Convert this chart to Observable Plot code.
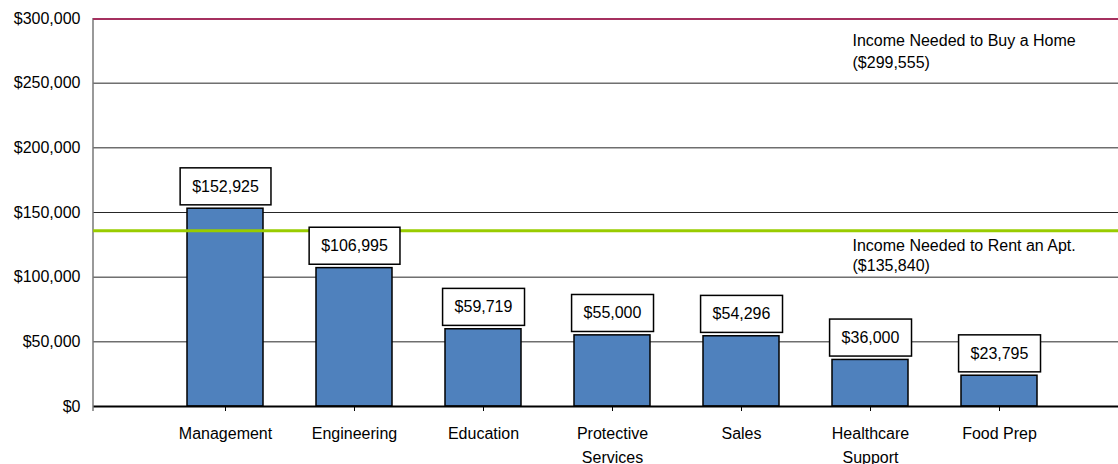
<!DOCTYPE html>
<html>
<head>
<meta charset="utf-8">
<script src="https://cdn.jsdelivr.net/npm/d3@7"></script>
<script src="https://cdn.jsdelivr.net/npm/@observablehq/plot@0.6"></script>
<style>
  html, body { margin: 0; padding: 0; background: #fff; }
</style>
</head>
<body>
<div id="chart"></div>
<script>
const categories = ["Management", "Engineering", "Education", "Protective Services", "Sales", "Healthcare Support", "Food Prep"];
const tickLabels = ["Management", "Engineering", "Education", "Protective\nServices", "Sales", "Healthcare\nSupport", "Food Prep"];
const values = [152925, 106995, 59719, 55000, 54296, 36000, 23795];
const yTicks = [0, 50000, 100000, 150000, 200000, 250000, 300000];
const refNames = ["Income Needed to Buy a Home", "Income Needed to Rent an Apt."];
const refValues = [299555, 135840];

const fmt = d => "$" + d3.format(",")(d);
const data = categories.map((c, i) => ({category: c, value: values[i]}));
const refs = refNames.map((n, i) => ({name: n, value: refValues[i], text: n + "\n(" + fmt(refValues[i]) + ")"}));

const yAxisLine = (index, scales, values, dims) =>
  d3.create("svg:line")
    .attr("x1", dims.marginLeft).attr("x2", dims.marginLeft)
    .attr("y1", dims.marginTop).attr("y2", dims.height - dims.marginBottom + 5)
    .attr("stroke", "#777").attr("stroke-width", 1.5).node();

const chart = Plot.plot({
  width: 1118,
  height: 464,
  marginLeft: 93,
  marginRight: 0,
  marginTop: 18,
  marginBottom: 58,
  style: {fontFamily: "'Liberation Sans', Arial, sans-serif", fontSize: "16px", color: "#000", background: "#fff"},
  x: {domain: categories, range: [157.6, 1066.6], paddingInner: 0.407, paddingOuter: 0.2035, label: null},
  y: {domain: [0, 300000], label: null},
  marks: [
    Plot.ruleY(yTicks, {stroke: "#000", strokeWidth: 1, strokeOpacity: 0.85}),
    Plot.barY(data, {x: "category", y: "value", fill: "#4f81bd", stroke: "#000", strokeWidth: 1.5}),
    Plot.ruleY([0], {stroke: "#000", strokeWidth: 2}),
    yAxisLine,
    Plot.axisY({ticks: yTicks, tickFormat: fmt, tickSize: 0, tickPadding: 13, fontSize: 16}),
    Plot.axisX({tickSize: 5, tickPadding: 10, fontSize: 16, lineHeight: 1.5,
      tickFormat: d => tickLabels[categories.indexOf(d)]}),
    Plot.ruleY([refs[0]], {y: "value", stroke: "#a5305f", strokeWidth: 2}),
    Plot.ruleY([refs[1]], {y: "value", stroke: "#99cc00", strokeWidth: 3}),
    Plot.text([refs[0]], {y: "value", text: "text", frameAnchor: "right", dx: -266, dy: 31,
      textAnchor: "start", lineAnchor: "middle", lineHeight: 1.35, fontSize: 16, fill: "#000"}),
    Plot.text([refs[1]], {y: "value", text: "text", frameAnchor: "right", dx: -266, dy: 23.5,
      textAnchor: "start", lineAnchor: "middle", lineHeight: 1.3, fontSize: 16, fill: "#000"}),
    Plot.text(data, {x: "category", y: "value", text: d => fmt(d.value), dy: -22,
      lineAnchor: "middle", fontSize: 16, fill: "#000"})
  ]
});

document.getElementById("chart").appendChild(chart);

const labelSet = new Set(values.map(fmt));
d3.select(chart).selectAll("text").each(function() {
  const t = this;
  const parentLabel = t.parentNode.getAttribute("aria-label") || "";
  if (parentLabel.includes("axis")) return;
  if (!labelSet.has(t.textContent)) return;
  const bb = t.getBBox();
  d3.select(t.parentNode).insert("rect", () => t)
    .attr("transform", t.getAttribute("transform"))
    .attr("x", bb.x - 12).attr("y", bb.y - 10)
    .attr("width", bb.width + 24).attr("height", bb.height + 20)
    .attr("fill", "#fff").attr("stroke", "#000").attr("stroke-width", 1.5);
});
</script>
</body>
</html>
